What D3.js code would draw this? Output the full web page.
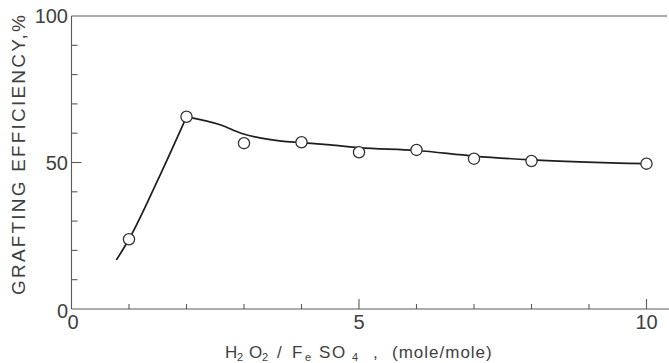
<!DOCTYPE html>
<html>
<head>
<meta charset="utf-8">
<script src="https://cdn.jsdelivr.net/npm/d3@7"></script>
<style>
  html, body { margin: 0; padding: 0; background: #fff; }
  svg { display: block; }
  text { font-family: "Liberation Sans", Arial, Helvetica, sans-serif; fill: #404040; }
</style>
</head>
<body>
<svg id="chart" width="669" height="363"></svg>
<script>
// Measured grafting efficiency against the H2O2 / FeSO4 molar ratio
const ratio = [1, 2, 3, 4, 5, 6, 7, 8, 10];
const efficiency = [23.8, 65.6, 56.6, 56.9, 53.5, 54.3, 51.3, 50.5, 49.6];

// Hand-fitted trend curve: steep rise up to the maximum, then a slow decline
const riseX = [0.78, 1, 1.5, 2];
const riseY = [16.7, 23.8, 44.0, 65.6];
const fallX = [2, 2.6, 2.95, 3.3, 3.65, 4, 4.5, 5, 6, 7, 8, 10];
const fallY = [65.6, 62.8, 60.0, 58.3, 57.3, 56.8, 56.0, 55.1, 54.1, 52.2, 50.9, 49.6];

// Axis ticks
const xMinor = [1, 2, 3, 4, 6, 7, 8, 9];
const xMajor = [0, 5, 10];
const yMinor = [10, 20, 30, 40, 60, 70, 80, 90];
const yMajor = [0, 50, 100];

const svg = d3.select("#chart");
const plotL = 71.5, plotR = 669, plotT = 16, plotB = 309;

const x = d3.scaleLinear().domain([0, 1]).range([plotL, plotL + 57.5]);
const y = d3.scaleLinear().domain([0, 100]).range([plotB, plotT]);

const frame = svg.append("g").attr("stroke", "#5a5a5a").attr("stroke-width", 1.1).attr("fill", "none");
// left axis, bottom axis and top border
frame.append("line").attr("x1", plotL).attr("x2", plotL).attr("y1", plotT).attr("y2", plotB);
frame.append("line").attr("x1", plotL).attr("x2", plotR).attr("y1", plotB).attr("y2", plotB);
frame.append("line").attr("x1", plotL).attr("x2", 667).attr("y1", plotT).attr("y2", plotT);

// inward ticks on the x axis
frame.selectAll(".xminor").data(xMinor).join("line")
  .attr("x1", d => x(d)).attr("x2", d => x(d))
  .attr("y1", plotB).attr("y2", plotB - 5);
frame.selectAll(".xmajor").data(xMajor.filter(d => d > 0)).join("line")
  .attr("x1", d => x(d)).attr("x2", d => x(d))
  .attr("y1", plotB).attr("y2", plotB - 10);

// inward ticks on the y axis
frame.selectAll(".yminor").data(yMinor).join("line")
  .attr("x1", plotL).attr("x2", plotL + 6)
  .attr("y1", d => y(d)).attr("y2", d => y(d));
frame.selectAll(".ymajor").data([50]).join("line")
  .attr("x1", plotL).attr("x2", plotL + 10)
  .attr("y1", d => y(d)).attr("y2", d => y(d));

// tick labels
svg.selectAll(".xlab").data(xMajor).join("text")
  .attr("x", d => x(d) + (d === 0 ? 1.5 : 0))
  .attr("y", 329)
  .attr("text-anchor", "middle")
  .attr("font-size", 20)
  .text(d => d);

svg.selectAll(".ylab").data(yMajor).join("text")
  .attr("x", 68)
  .attr("y", d => y(d) + (d === 0 ? 9 : 7))
  .attr("text-anchor", "end")
  .attr("font-size", 20)
  .text(d => d);

// axis titles
svg.append("text")
  .attr("transform", "translate(25,155) rotate(-90)")
  .attr("text-anchor", "middle")
  .attr("font-size", 19)
  .attr("textLength", 280)
  .attr("lengthAdjust", "spacing")
  .text("GRAFTING EFFICIENCY,%");

// x title pieces: [text, left x, subscript?]
const titleParts = [
  ["H", 225, 0], ["2", 237, 1], ["O", 249, 0], ["2", 262, 1], ["/", 277, 0],
  ["F", 292, 0], ["e", 305, 1], ["S", 319, 0], ["O", 332, 0], ["4", 352, 1],
  [",", 373, 0], ["(mole/mole)", 392, 0]
];
svg.append("g").selectAll("text").data(titleParts).join("text")
  .attr("x", d => d[1])
  .attr("y", d => d[2] ? 361 : 358)
  .attr("font-size", d => d[2] ? 11 : 17)
  .attr("letter-spacing", d => d[0].length > 1 ? 1 : 0)
  .text(d => d[0]);

// trend curve
const curve = svg.append("g").attr("fill", "none").attr("stroke", "#1e1e1e").attr("stroke-width", 1.7);
curve.append("path")
  .attr("d", d3.line().x(d => x(d[0])).y(d => y(d[1])).curve(d3.curveMonotoneX)(d3.zip(riseX, riseY)));
curve.append("path")
  .attr("d", d3.line().x(d => x(d[0])).y(d => y(d[1])).curve(d3.curveMonotoneX)(d3.zip(fallX, fallY)));

// data points
svg.append("g").selectAll("circle").data(d3.zip(ratio, efficiency)).join("circle")
  .attr("cx", d => x(d[0])).attr("cy", d => y(d[1]))
  .attr("r", 5.6)
  .attr("fill", "#fff")
  .attr("stroke", "#333")
  .attr("stroke-width", 1.3);
</script>
</body>
</html>
